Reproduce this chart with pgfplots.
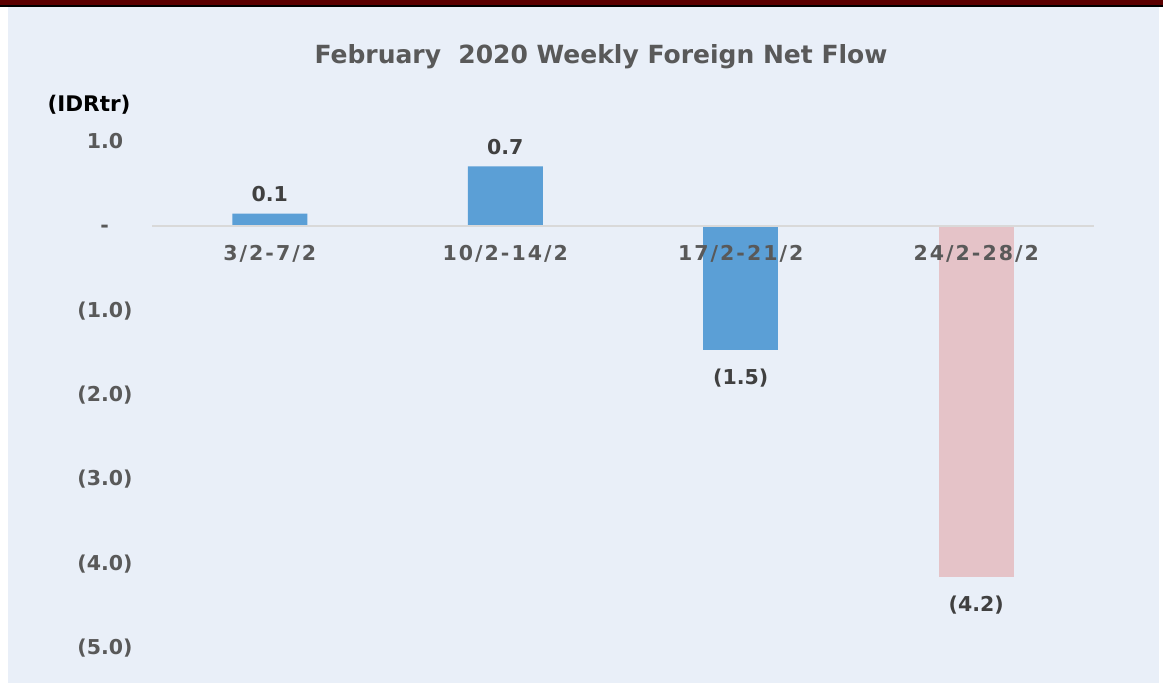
\documentclass[border=0pt]{standalone}
\usepackage{pgfplots}
\pgfplotsset{compat=1.18}
\usepackage{fontspec}
\setmainfont{DejaVu Sans}
\definecolor{bg}{HTML}{E9EFF8}
\definecolor{topred}{HTML}{5C0000}
\definecolor{barblue}{HTML}{5B9FD6}
\definecolor{barpink}{HTML}{E5C3C8}
\definecolor{txt}{HTML}{595959}
\definecolor{lbl}{HTML}{404040}
\newcommand{\fz}{\bfseries\fontsize{20.5}{23}\selectfont}
\begin{document}
\begin{tikzpicture}
\fill[white] (0pt,0pt) rectangle (1163pt,-683pt);
\fill[bg] (8pt,-6pt) rectangle (1159pt,-683pt);
\fill[topred] (0pt,0pt) rectangle (1163pt,-5pt);
\fill[black] (0pt,-5pt) rectangle (1163pt,-6.5pt);
\node[font=\bfseries\fontsize{25}{28}\selectfont, text=txt] at (601pt,-57pt) {February\ \ 2020 Weekly Foreign Net Flow};
\node[font=\bfseries\fontsize{21.5}{24}\selectfont, text=black, anchor=east] at (134pt,-105pt) {(IDRtr)};
\begin{axis}[
  at={(152pt,-648pt)}, anchor=south west,
  width=942pt, height=506pt, scale only axis,
  xmin=-0.5, xmax=3.5, ymin=-5, ymax=1,
  axis line style={draw=none},
  major tick length=0pt,
  xtick={0,1,2,3},
  xticklabels={3/2-7/2,10/2-14/2,17/2-21/2,24/2-28/2},
  ytick={-5,-4,-3,-2,-1,0,1},
  yticklabels={(5.0),(4.0),(3.0),(2.0),(1.0),-\phantom{0)},1.0\phantom{)}},
  ticklabel style={font=\fz, text=txt},
  xticklabel style={anchor=north, yshift=406pt, font=\fz\addfontfeature{LetterSpace=10}},
  yticklabel style={anchor=east, xshift=-16pt},
  extra y ticks={0},
  extra y tick labels={},
  extra y tick style={grid=major, grid style={draw=black!15, line width=2pt}},
  ybar, bar width=75pt, bar shift=0pt,
  axis on top,
  clip=false,
  point meta=explicit symbolic,
  nodes near coords={\pgfplotspointmeta},
]
\addplot[fill=barblue, draw=none,
  nodes near coords style={font=\fz, text=lbl, anchor=south, yshift=8pt}]
  coordinates {(0,0.15) [0.1] (1,0.71) [0.7]};
\addplot[fill=barblue, draw=none,
  nodes near coords style={font=\fz, text=lbl, anchor=north, yshift=-15pt}]
  coordinates {(2,-1.47) [(1.5)]};
\addplot[fill=barpink, draw=none,
  nodes near coords style={font=\fz, text=lbl, anchor=north, yshift=-15pt}]
  coordinates {(3,-4.16) [(4.2)]};
\end{axis}
\end{tikzpicture}
\end{document}
